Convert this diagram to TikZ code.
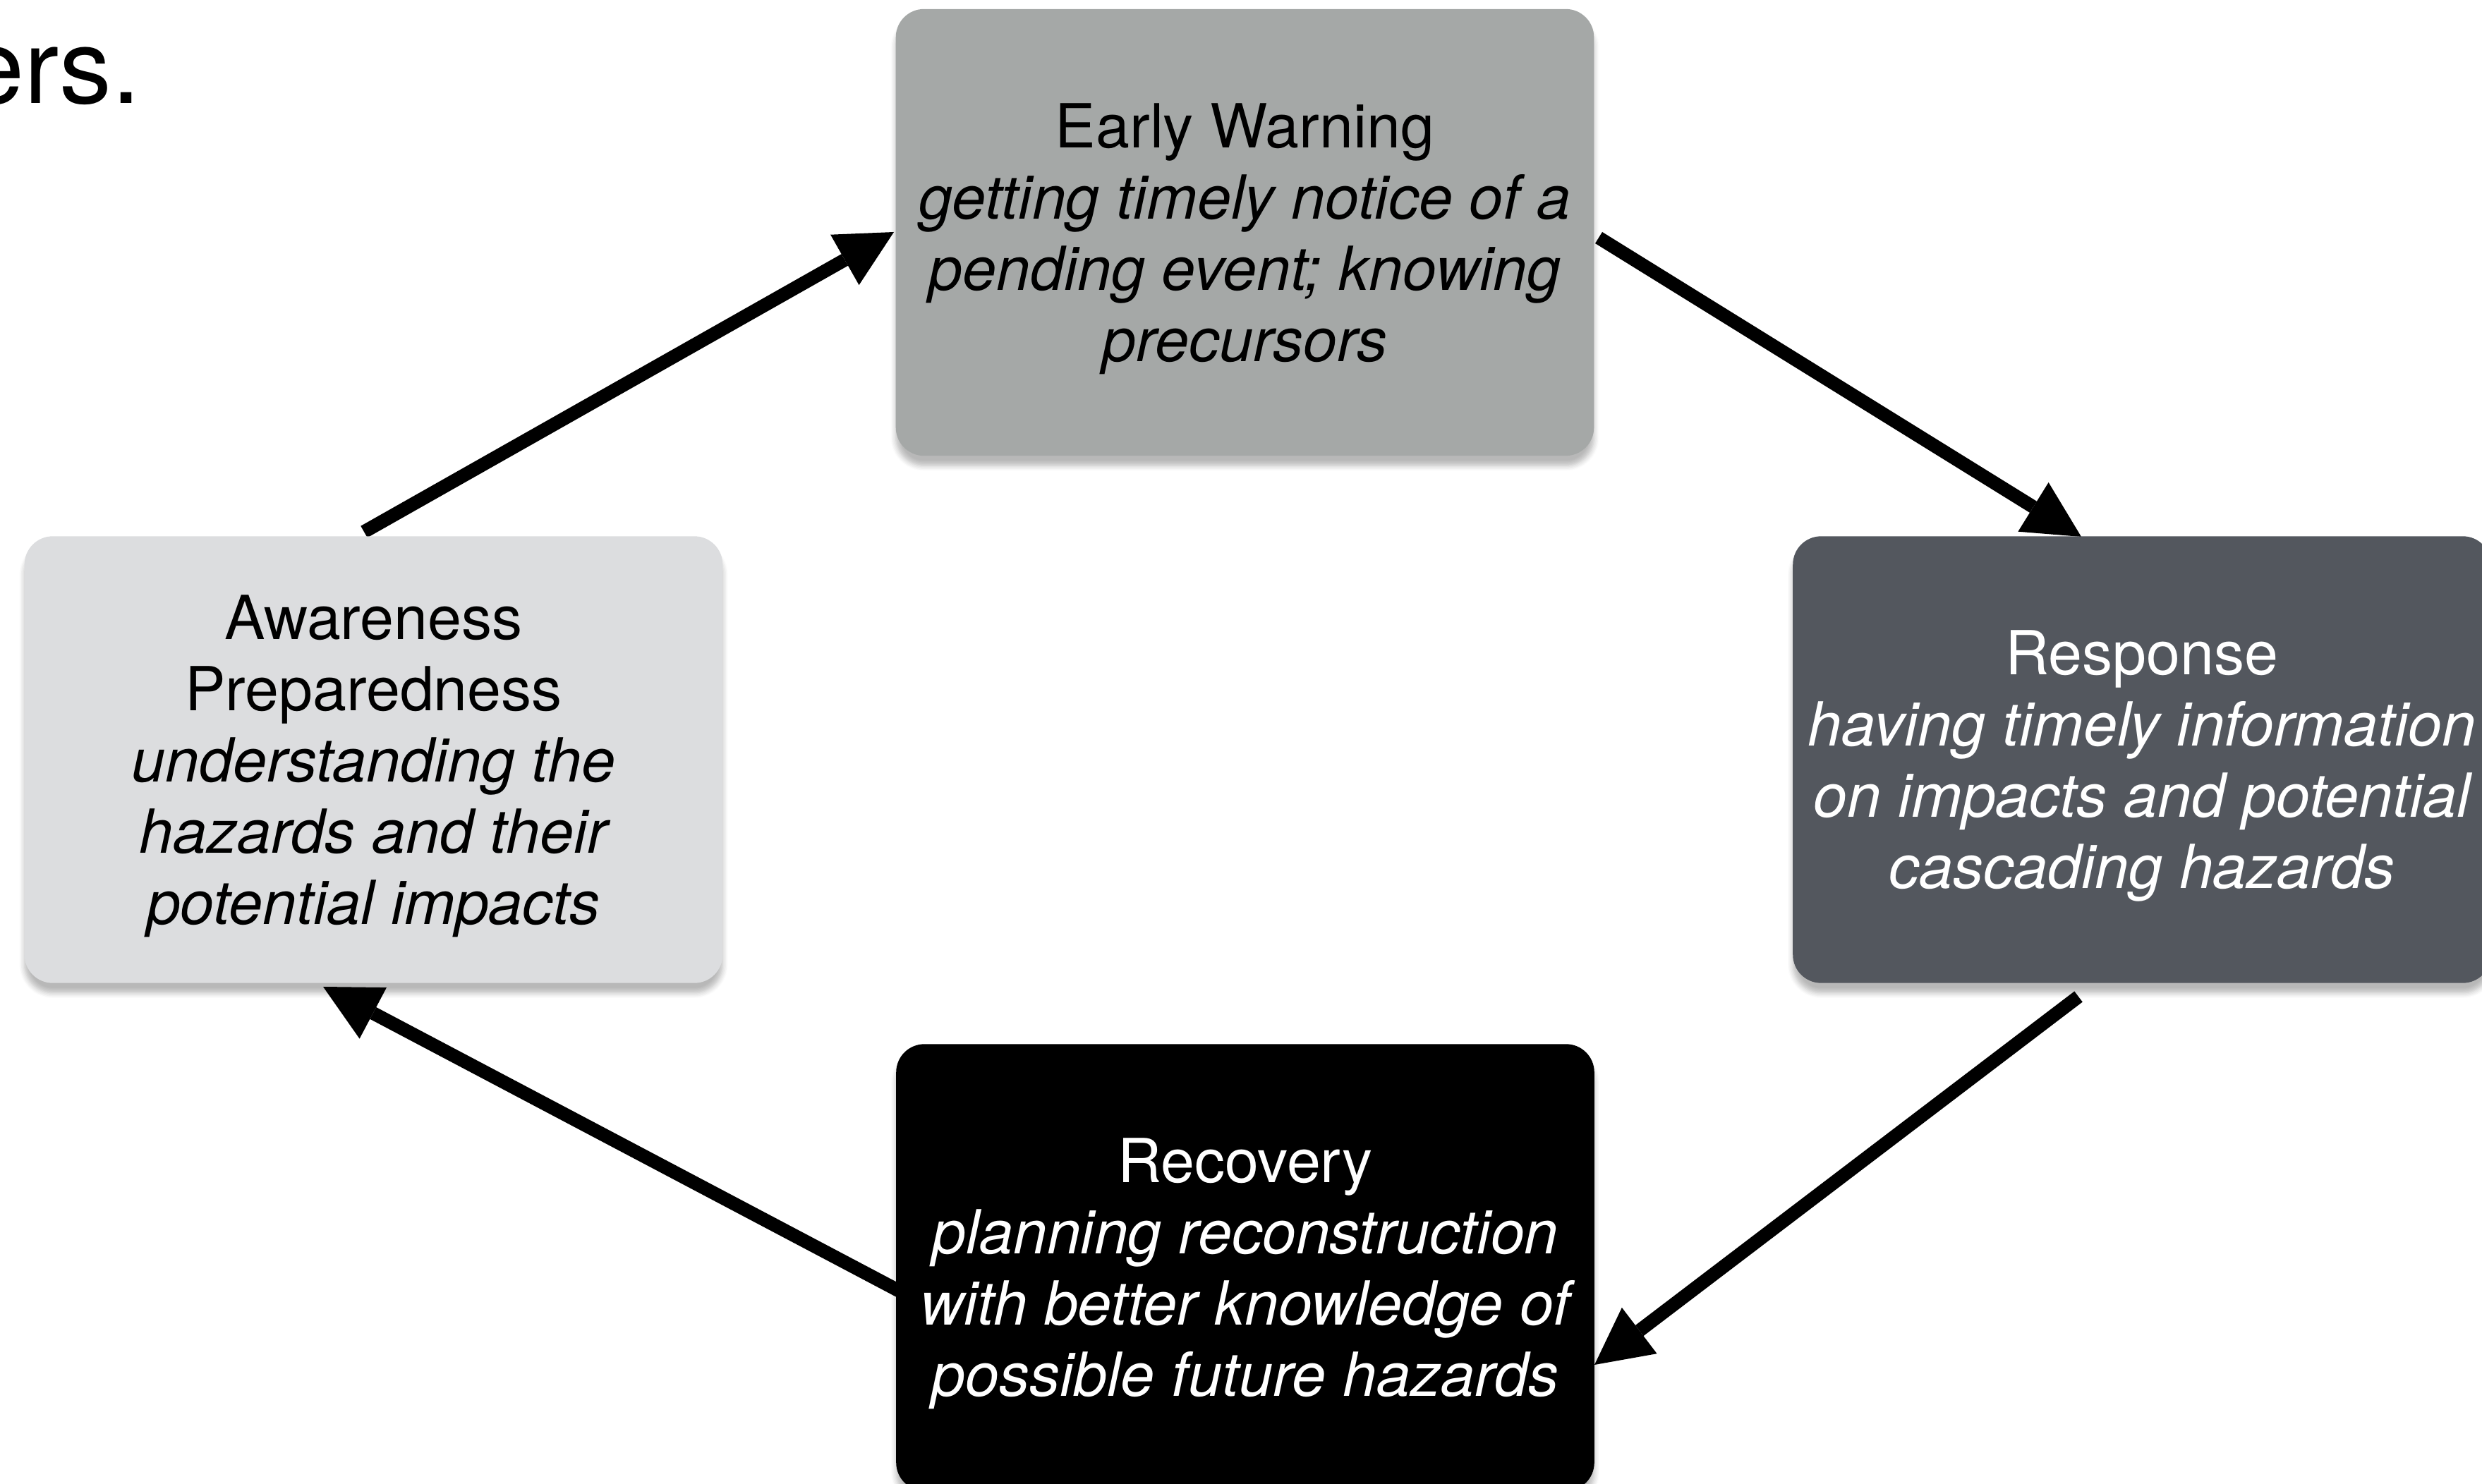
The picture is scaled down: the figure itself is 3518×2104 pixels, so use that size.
\documentclass[tikz,border=0pt]{standalone}
\usepackage{fontspec}
\setmainfont{TeX Gyre Heros}
\usetikzlibrary{arrows.meta,shadows.blur}
\definecolor{ewgray}{HTML}{A5A8A7}
\definecolor{awgray}{HTML}{DCDDDF}
\definecolor{rsgray}{HTML}{53575E}
\pgfdeclarelayer{background}
\pgfsetlayers{background,main}
\newcommand{\firststrut}{\rule{0pt}{23pt}}
\tikzset{
  stagebox/.style={rounded corners=0.4cm, minimum width=9.89cm, minimum height=6.33cm,
    inner sep=0pt, align=center, font=\fontsize{24.5}{28.7}\selectfont,
    blur shadow={shadow xshift=0pt, shadow yshift=-4pt, shadow blur steps=6, shadow opacity=28}},
  cyclearrow/.style={line width=5.4pt, -{Triangle[length=0.8cm,width=0.82cm,line width=0pt]}},
  slidetext/.style={font=\fontsize{42}{50}\selectfont, inner sep=0pt}
}
\begin{document}
\begin{tikzpicture}[x=0.01cm,y=-0.01cm]
\useasboundingbox (0,0) rectangle (3518,2104);
% slide text fragments
\node[slidetext, anchor=base east] (ers) at (200,147) {ers.};
\node[slidetext, anchor=base west] (frag) at (2385,-32) {p};
% boxes
\node[stagebox, fill=ewgray, text=black] (ew) at (1764.5,329.5)
  {\firststrut Early Warning\\ \itshape getting timely notice of a\\ \itshape pending event; knowing\\ \itshape precursors};
\node[stagebox, fill=rsgray, text=white] (rs) at (3036,1077)
  {\firststrut Response\\ \itshape having timely information\\ \itshape on impacts and potential\\ \itshape cascading hazards};
\node[stagebox, fill=black, text=white] (rc) at (1765,1797)
  {\firststrut Recovery\\ \itshape planning reconstruction\\ \itshape with better knowledge of\\ \itshape possible future hazards};
\node[stagebox, fill=awgray, text=black] (aw) at (529.5,1077)
  {\firststrut Awareness\\ Preparedness\\ \itshape understanding the\\ \itshape hazards and their\\ \itshape potential impacts};
% connector end points
\coordinate (aw-out) at (516,754);
\coordinate (ew-in) at (1267,329);
\coordinate (ew-out) at (2266,337);
\coordinate (rs-in) at (2950,761);
\coordinate (rs-out) at (2946,1413);
\coordinate (rc-in) at (2260,1935);
\coordinate (rc-out) at (1310,1849);
\coordinate (aw-in) at (458,1399);
\begin{pgfonlayer}{background}
\draw[cyclearrow] (aw-out) -- (ew-in);
\draw[cyclearrow] (ew-out) -- (rs-in);
\draw[cyclearrow] (rs-out) -- (rc-in);
\draw[cyclearrow] (rc-out) -- (aw-in);
\end{pgfonlayer}
\end{tikzpicture}
\end{document}
